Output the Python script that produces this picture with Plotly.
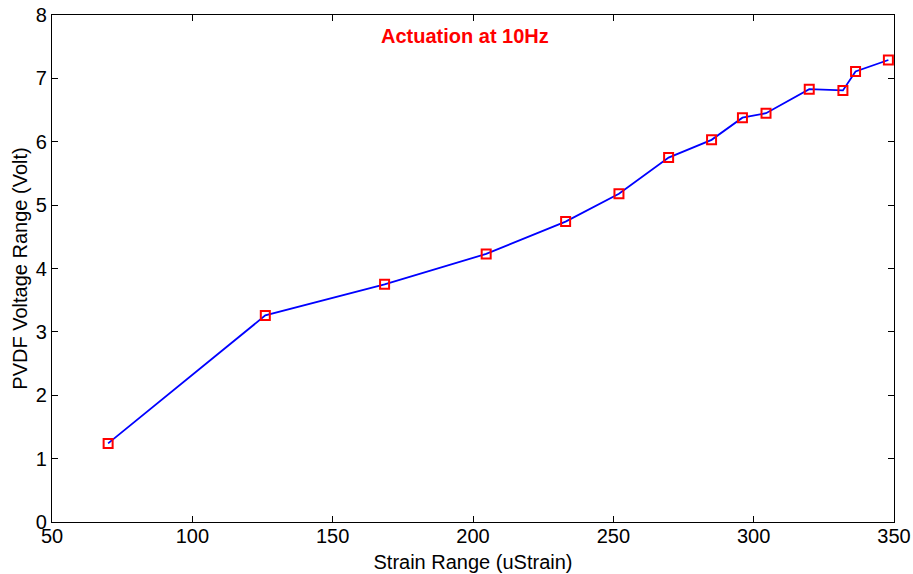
import plotly.graph_objects as go

strain = [70, 126, 168.5, 204.7, 233, 252, 269.7, 285, 296, 304.4, 319.8, 331.8, 336.3, 348]
voltage = [1.24, 3.26, 3.75, 4.23, 4.74, 5.18, 5.75, 6.03, 6.38, 6.45, 6.83, 6.81, 7.11, 7.29]
x_ticks = [50, 100, 150, 200, 250, 300, 350]
y_ticks = [0, 1, 2, 3, 4, 5, 6, 7, 8]

FONT = "Liberation Sans, Arial, sans-serif"

fig = go.Figure()
fig.add_trace(go.Scatter(
    x=strain, y=voltage, mode="lines+markers",
    line=dict(color="#0000ff", width=1.8),
    marker=dict(symbol="square-open", color="#ff0000", size=9, line=dict(width=2, color="#ff0000")),
    showlegend=False,
))

axis_common = dict(
    showgrid=False, zeroline=False, showline=True, linecolor="black", linewidth=1.3,
    mirror="ticks", ticks="inside", ticklen=6, tickcolor="black", tickwidth=1,
    tickfont=dict(family=FONT, size=20, color="black"),
    automargin=False, ticklabeloverflow="allow",
)
fig.update_xaxes(range=[50, 350], tickvals=x_ticks, ticklabelstandoff=-4,
                 title=dict(text="Strain Range (uStrain)", font=dict(family=FONT, size=20, color="black"), standoff=8),
                 **axis_common)
fig.update_yaxes(range=[0, 8], tickvals=y_ticks,
                 title=dict(text="PVDF Voltage Range (Volt)", font=dict(family=FONT, size=20, color="black"), standoff=2),
                 **axis_common)

fig.add_annotation(text="<b>Actuation at 10Hz</b>", xref="paper", yref="paper",
                   x=0.4904, y=0.959, xanchor="center", yanchor="middle", showarrow=False,
                   font=dict(family=FONT, size=20, color="#ff0000"))

fig.update_layout(
    width=913, height=574,
    margin=dict(l=52, r=19, t=15, b=52, pad=0),
    plot_bgcolor="white", paper_bgcolor="white",
)
fig.write_html("out.html", config={"displayModeBar": False},
               post_script="document.body.style.margin='0';document.body.style.overflow='hidden';")
